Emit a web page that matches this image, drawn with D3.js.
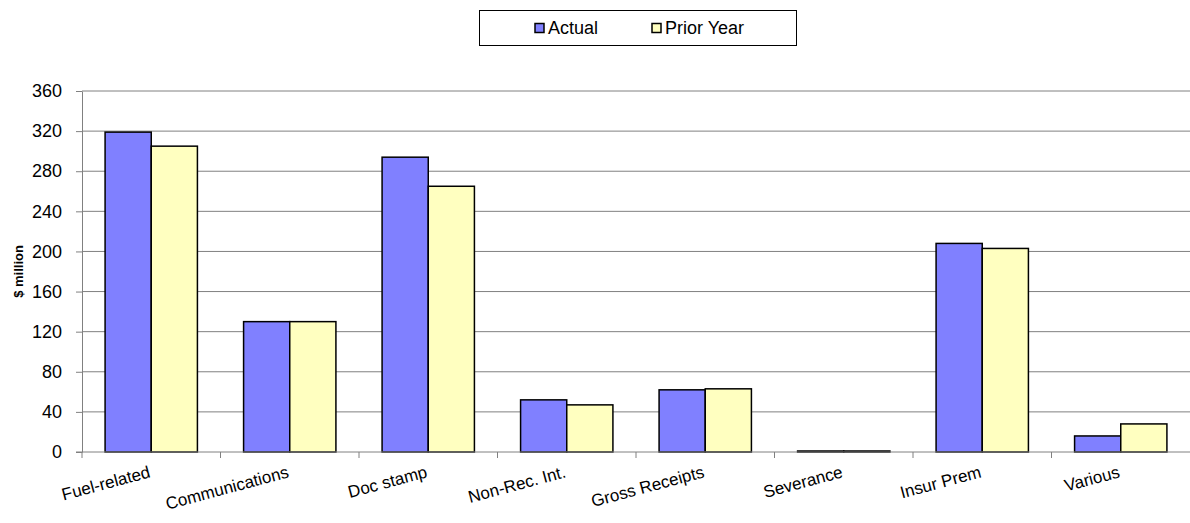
<!DOCTYPE html>
<html>
<head>
<meta charset="utf-8">
<script src="https://cdn.jsdelivr.net/npm/d3@7"></script>
<style>
  body { margin: 0; background: #fff; }
  text { font-family: "Liberation Sans", Arial, sans-serif; }
</style>
</head>
<body>
<script>
// chart data
const categories = ["Fuel-related", "Communications", "Doc stamp", "Non-Rec. Int.",
  "Gross Receipts", "Severance", "Insur Prem", "Various"];
const actual = [319, 130, 294, 52, 62, 1, 208, 16];
const priorYear = [305, 130, 265, 47, 63, 1, 203, 28];
const seriesNames = ["Actual", "Prior Year"];
const yTicks = [0, 40, 80, 120, 160, 200, 240, 280, 320, 360];
const colors = ["#8080ff", "#ffffc0"];

const width = 1190, height = 523;
const margin = {top: 91, right: 0, bottom: 71, left: 82};

const svg = d3.select("body").append("svg")
    .attr("width", width)
    .attr("height", height);

const x = d3.scaleBand()
    .domain(categories)
    .range([margin.left, width - margin.right])
    .paddingInner(0)
    .paddingOuter(0);

// two bars per category, half a bar of space each side
const x1 = d3.scaleBand()
    .domain(seriesNames)
    .range([0, x.bandwidth()])
    .paddingOuter(0.5)
    .paddingInner(0);

const y = d3.scaleLinear()
    .domain([0, 360])
    .range([height - margin.bottom, margin.top]);

// gridlines
svg.append("g")
  .selectAll("line")
  .data(yTicks.slice(1))
  .enter().append("line")
    .attr("x1", margin.left)
    .attr("x2", width - margin.right)
    .attr("y1", d => y(d))
    .attr("y2", d => y(d))
    .attr("stroke", "#808080")
    .attr("stroke-width", 1);

// y axis
const yAxis = svg.append("g")
    .attr("transform", "translate(" + margin.left + ",0)")
    .call(d3.axisLeft(y).tickValues(yTicks).tickSize(6).tickPadding(14).tickSizeOuter(0));
yAxis.select(".domain").attr("stroke", "#808080");
yAxis.selectAll(".tick line").attr("stroke", "#808080");
yAxis.selectAll("text")
    .attr("font-size", 18)
    .attr("fill", "#000")
    .style("font-family", "'Liberation Sans', Arial, sans-serif");

// y title
svg.append("text")
    .attr("transform", "translate(23," + ((margin.top + height - margin.bottom) / 2) + ") rotate(-90)")
    .attr("text-anchor", "middle")
    .attr("font-size", 13)
    .attr("font-weight", "bold")
    .text("$ million");

// bars
const data = categories.map((c, i) => ({cat: c, vals: [actual[i], priorYear[i]]}));

const groups = svg.append("g")
  .selectAll("g")
  .data(data)
  .enter().append("g")
    .attr("transform", d => "translate(" + x(d.cat) + ",0)");

groups.selectAll("rect")
  .data(d => d.vals.map((v, j) => ({name: seriesNames[j], value: v, j: j})))
  .enter().append("rect")
    .attr("x", d => x1(d.name))
    .attr("width", x1.bandwidth())
    .attr("y", d => y(d.value))
    .attr("height", d => y(0) - y(d.value))
    .attr("fill", d => colors[d.j])
    .attr("stroke", "#000")
    .attr("stroke-width", 1.5);

// x axis
const xAxisG = svg.append("g")
    .attr("transform", "translate(0," + y(0) + ")");
xAxisG.append("line")
    .attr("x1", margin.left - 6)
    .attr("x2", width - margin.right)
    .attr("stroke", "#808080");
xAxisG.selectAll(".xtick")
  .data(categories)
  .enter().append("line")
    .attr("x1", d => x(d))
    .attr("x2", d => x(d))
    .attr("y1", 0)
    .attr("y2", 6)
    .attr("stroke", "#808080");

xAxisG.selectAll(".xlabel")
  .data(categories)
  .enter().append("text")
    .attr("transform", d => "translate(" + (x(d) + x.bandwidth() / 2) + ",25) rotate(-15)")
    .attr("text-anchor", "end")
    .attr("font-size", 17)
    .text(d => d);

// legend
const legend = svg.append("g");
legend.append("rect")
    .attr("x", 479.5)
    .attr("y", 10.5)
    .attr("width", 317)
    .attr("height", 35)
    .attr("fill", "#fff")
    .attr("stroke", "#000");

const legendX = [535, 652];
const li = legend.selectAll(".li")
  .data(seriesNames)
  .enter().append("g")
    .attr("transform", (d, i) => "translate(" + legendX[i] + ",28)");
li.append("rect")
    .attr("x", 0)
    .attr("y", -4.5)
    .attr("width", 9)
    .attr("height", 9)
    .attr("fill", (d, i) => colors[i])
    .attr("stroke", "#000")
    .attr("stroke-width", 1.5);
li.append("text")
    .attr("x", 13)
    .attr("dy", "0.35em")
    .attr("font-size", 18)
    .text(d => d);
</script>
</body>
</html>
